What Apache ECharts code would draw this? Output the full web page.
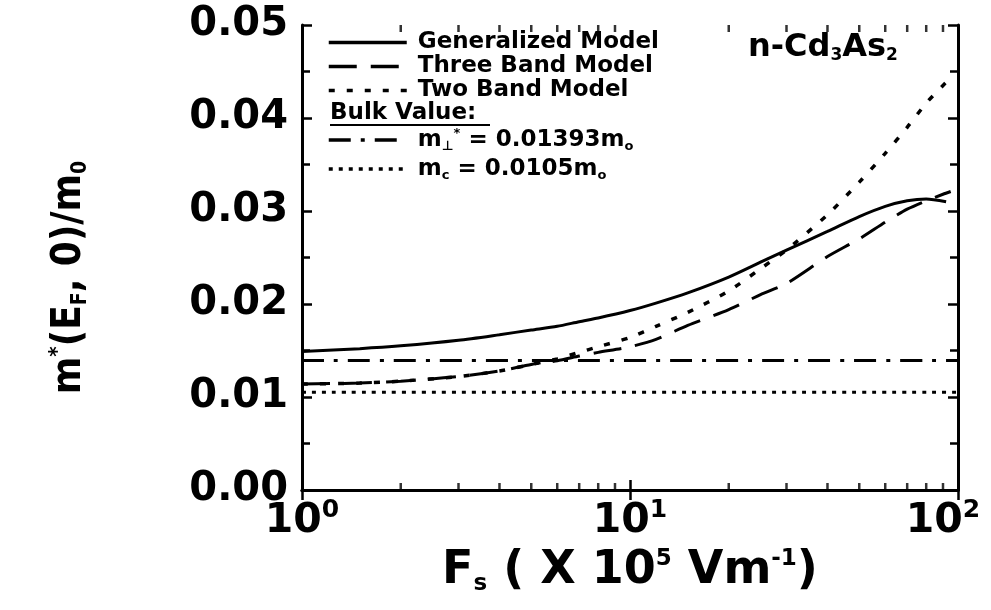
<!DOCTYPE html>
<html>
<head>
<meta charset="utf-8">
<script src="https://cdn.jsdelivr.net/npm/echarts@6/dist/echarts.min.js"></script>
<style>
html,body{margin:0;padding:0;background:#fff;}
#c{width:991px;height:610px;}
</style>
</head>
<body>
<div id="c"></div>
<script>
// ---- data ----
const fieldF = [1, 1.5, 2, 3, 4, 5, 6, 7, 8, 10, 12, 15, 20, 25, 30, 40, 50, 60, 70, 80, 90, 95];
const generalizedF = [1, 1.5, 2, 3, 4, 5, 6, 7, 8, 10, 12, 15, 20, 25, 30, 40, 50, 60, 70, 80, 92];
const generalized = [0.0149, 0.0152, 0.0155, 0.0161, 0.0167, 0.0172, 0.0176, 0.0181, 0.0185, 0.0193, 0.0201, 0.0212, 0.0229, 0.0245, 0.0258, 0.0278, 0.0294, 0.0305, 0.0311, 0.0313, 0.0310];
const threeBand = [0.0114, 0.0115, 0.0117, 0.0122, 0.0128, 0.0135, 0.0139, 0.0144, 0.0148, 0.0154, 0.0162, 0.0177, 0.0194, 0.0210, 0.0222, 0.0251, 0.0270, 0.0288, 0.0302, 0.0311, 0.0318, 0.0321];
const twoBand = [0.0114, 0.0115, 0.0117, 0.0122, 0.0128, 0.0135, 0.0141, 0.0148, 0.0154, 0.0164, 0.0176, 0.0191, 0.0214, 0.0238, 0.0258, 0.0296, 0.0331, 0.0362, 0.0390, 0.0416, 0.0435, 0.0443];
const bulkF = [1, 100];
const bulkPerp = [0.01393, 0.01393];
const bulkC = [0.0105, 0.0105];
const xMinorTicks = [2, 3, 4, 5, 6, 7, 8, 9, 20, 30, 40, 50, 60, 70, 80, 90];
const yRange = [0, 0.05];
const seriesNames = ['Generalized Model', 'Three Band Model', 'Two Band Model', 'perp', 'c'];

const zip = (xs, ys) => xs.map((x, i) => [x, ys[i]]);
const bold = 'bold';
const mainFont = "'DejaVu Sans', sans-serif";
const narrowFont = "'Liberation Sans Narrow', 'DejaVu Sans Condensed', 'Liberation Sans', sans-serif";

const chart = echarts.init(document.getElementById('c'));

const xAxisBase = {
  type: 'log', logBase: 10, min: 1, max: 100,
  axisLine: { show: true, lineStyle: { color: '#000', width: 3 } },
  axisTick: { show: true, inside: true, length: 10, lineStyle: { color: '#000', width: 2.5 } },
  splitLine: { show: false },
  minorTick: { show: false }
};
const yAxisBase = {
  type: 'value', min: yRange[0], max: yRange[1], interval: 0.01,
  axisLine: { show: true, lineStyle: { color: '#000', width: 3 } },
  axisTick: { show: true, inside: true, length: 10, lineStyle: { color: '#000', width: 2.5 } },
  minorTick: { show: true, splitNumber: 2, length: 8, lineStyle: { color: '#000', width: 2.5 } },
  splitLine: { show: false }
};

const lineSeries = (name, data, lineStyle) => ({
  name, type: 'line', data, symbol: 'none', smooth: 0.25, clip: false,
  lineStyle: Object.assign({ color: '#000' }, lineStyle),
  itemStyle: { color: '#000' },
  z: 3
});

const tickSeries = (y, offset) => ({
  type: 'scatter', symbol: 'rect', symbolSize: [2.5, 7], symbolOffset: [0, offset],
  data: xMinorTicks.map(v => [v, y]), itemStyle: { color: '#000' }, clip: false,
  silent: true, z: 5
});

const legendText = { fontFamily: mainFont, fontWeight: bold, fontSize: 23, color: '#000' };

chart.setOption({
  animation: false,
  backgroundColor: '#fff',
  grid: { left: 302, right: 33, top: 25, bottom: 120, containLabel: false, outerBoundsMode: 'none' },
  xAxis: [
    Object.assign({}, xAxisBase, {
      position: 'bottom',
      name: '{t|F}{sub|s}{t| ( X 10}{sup|5}{t| Vm}{sup|-1}{t|)}',
      nameLocation: 'middle', nameGap: 56, nameMoveOverlap: false,
      nameTextStyle: {
        rich: {
          t: { fontFamily: mainFont, fontWeight: bold, fontSize: 46, color: '#000', lineHeight: 50 },
          sub: { fontFamily: mainFont, fontWeight: bold, fontSize: 23, color: '#000', padding: [26, 0, 0, 0], lineHeight: 50 },
          sup: { fontFamily: mainFont, fontWeight: bold, fontSize: 23, color: '#000', padding: [0, 0, 24, 0], lineHeight: 50 }
        }
      },
      axisLabel: {
        show: true, margin: 8,
        formatter: v => {
          const e = Math.round(Math.log10(v));
          return e === 2 ? '{b|10}{s2|' + e + '}' : '{b|10}{s|' + e + '}';
        },
        rich: {
          b: { fontFamily: mainFont, fontWeight: bold, fontSize: 41, color: '#000', lineHeight: 46 },
          s: { fontFamily: mainFont, fontWeight: bold, fontSize: 25, color: '#000', padding: [0, 0, 22, 0], lineHeight: 46 },
          s2: { fontFamily: mainFont, fontWeight: bold, fontSize: 25, color: '#000', padding: [0, 30, 22, 0], lineHeight: 46 }
        }
      }
    }),
    Object.assign({}, xAxisBase, { position: 'top', axisLabel: { show: false } })
  ],
  yAxis: [
    Object.assign({}, yAxisBase, {
      position: 'left',
      name: '{t|m}{sup|*}{t|(E}{sub|F}{t|, 0)/m}{sub|0}',
      nameLocation: 'middle', nameRotate: 90, nameGap: 206, nameMoveOverlap: false,
      nameTextStyle: {
        padding: [0, 40, 0, 0],
        rich: {
          t: { fontFamily: narrowFont, fontWeight: bold, fontSize: 40, color: '#000', lineHeight: 52 },
          sub: { fontFamily: narrowFont, fontWeight: bold, fontSize: 21, color: '#000', padding: [22, 0, 0, 0], lineHeight: 52 },
          sup: { fontFamily: narrowFont, fontWeight: bold, fontSize: 22, color: '#000', padding: [0, 0, 24, 0], lineHeight: 52 }
        }
      },
      axisLabel: {
        show: true, margin: 14,
        formatter: v => v.toFixed(2),
        fontFamily: mainFont, fontWeight: bold, fontSize: 40, color: '#000'
      }
    }),
    Object.assign({}, yAxisBase, { position: 'right', axisLabel: { show: false } })
  ],
  legend: [
    {
      data: ['Generalized Model', 'Three Band Model', 'Two Band Model'],
      orient: 'vertical', left: 327, top: 31, padding: 0,
      itemWidth: 78, itemHeight: 21, itemGap: 1, selectedMode: false,
      itemStyle: { opacity: 0 },
      lineStyle: { width: 3.5 },
      textStyle: Object.assign({ lineHeight: 21, padding: [0, 0, 0, 6] }, legendText)
    },
    {
      data: ['perp', 'c'],
      orient: 'vertical', left: 327, top: 127, padding: 0,
      itemWidth: 78, itemHeight: 30, itemGap: 3, selectedMode: false,
      itemStyle: { opacity: 0 },
      lineStyle: { width: 3.5 },
      formatter: n => n === 'perp'
        ? '{t|m}{sub|\u22A5}{sup|*}{t| = 0.01393m}{sub|o}'
        : '{t|m}{sub|c}{t| = 0.0105m}{sub|o}',
      textStyle: {
        padding: [0, 0, 0, 6],
        rich: {
          t: Object.assign({ lineHeight: 30 }, legendText),
          sub: { fontFamily: mainFont, fontWeight: bold, fontSize: 13, color: '#000', padding: [13, 0, 0, 0], lineHeight: 30 },
          sup: { fontFamily: mainFont, fontWeight: bold, fontSize: 13, color: '#000', padding: [0, 0, 13, 0], lineHeight: 30 }
        }
      }
    }
  ],
  graphic: [
    {
      type: 'text', left: 330, top: 102, z: 10,
      style: { text: 'Bulk Value:', fontFamily: mainFont, fontWeight: bold, fontSize: 23, fill: '#000' }
    },
    {
      type: 'rect', left: 330, top: 124, z: 10,
      shape: { width: 160, height: 2 }, style: { fill: '#000' }
    },
    {
      type: 'text', left: 748, top: 31, z: 10,
      style: {
        text: '{t|n-Cd}{s|3}{t|As}{s|2}',
        rich: {
          t: { fontFamily: mainFont, fontWeight: bold, fontSize: 32, fill: '#000', lineHeight: 38 },
          s: { fontFamily: mainFont, fontWeight: bold, fontSize: 17, fill: '#000', padding: [16, 0, 0, 0], lineHeight: 38 }
        }
      }
    }
  ],
  series: [
    lineSeries(seriesNames[0], zip(generalizedF, generalized), { width: 3, type: 'solid' }),
    lineSeries(seriesNames[1], zip(fieldF, threeBand), { width: 3, type: [28, 14] }),
    lineSeries(seriesNames[2], zip(fieldF, twoBand), { width: 3.5, type: [6, 12] }),
    lineSeries(seriesNames[3], zip(bulkF, bulkPerp), { width: 3, type: [22, 10, 4, 10] }),
    lineSeries(seriesNames[4], zip(bulkF, bulkC), { width: 3, type: [4, 6] }),
    tickSeries(yRange[0], -3.5),
    tickSeries(yRange[1], 3.5)
  ]
});
</script>
</body>
</html>
